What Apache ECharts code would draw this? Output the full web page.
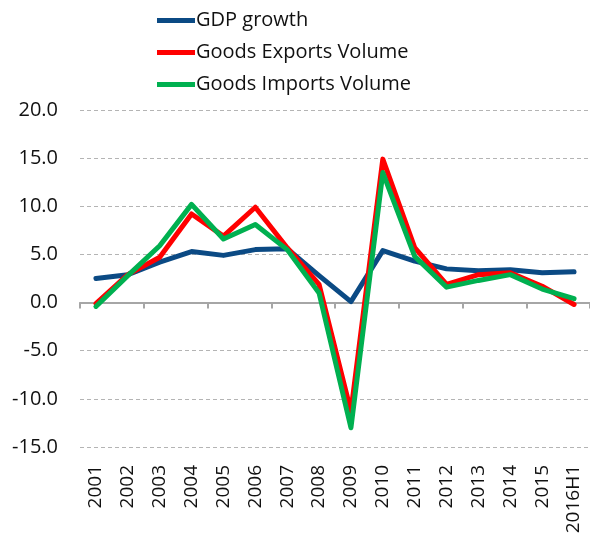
<!DOCTYPE html>
<html>
<head>
<meta charset="utf-8">
<script src="https://cdn.jsdelivr.net/npm/echarts@6/dist/echarts.min.js"></script>
<style>
  html, body { margin: 0; padding: 0; background: #fff; }
  #chart { width: 590px; height: 537px; }
</style>
</head>
<body>
<div id="chart"></div>
<script>
// Annual growth rates, %
const years = ['2001', '2002', '2003', '2004', '2005', '2006', '2007', '2008',
  '2009', '2010', '2011', '2012', '2013', '2014', '2015', '2016H1'];
const gdpGrowth = [2.5, 2.9, 4.2, 5.3, 4.9, 5.5, 5.6, 2.8, 0.1, 5.4, 4.3, 3.5, 3.3, 3.4, 3.1, 3.2];
const exportsVolume = [-0.1, 2.9, 4.7, 9.2, 6.9, 9.9, 5.7, 1.9, -11.3, 14.9, 5.7, 1.9, 2.9, 3.1, 1.7, -0.2];
const importsVolume = [-0.4, 2.8, 5.9, 10.2, 6.6, 8.1, 5.5, 1.0, -13.0, 13.5, 4.8, 1.6, 2.3, 2.9, 1.4, 0.4];

const FONT = '"Open Sans", "Noto Sans", sans-serif';

const chart = echarts.init(document.getElementById('chart'), null, { renderer: 'canvas' });

function lineSeries(name, data, color) {
  return {
    name, type: 'line', data,
    xAxisIndex: 0, yAxisIndex: 0,
    symbol: 'none',
    lineStyle: { color, width: 5, cap: 'round', join: 'round' },
    itemStyle: { color },
    emphasis: { disabled: true },
    animation: false
  };
}

chart.setOption({
  backgroundColor: '#fff',
  animation: false,
  legend: {
    orient: 'vertical',
    left: 152,
    top: 4,
    itemWidth: 38,
    itemHeight: 5,
    itemGap: 9,
    icon: 'rect',
    textStyle: { fontFamily: FONT, fontSize: 20, lineHeight: 23, color: '#111', padding: [0, 0, 0, -4] },
    data: ['GDP growth', 'Goods Exports Volume', 'Goods Imports Volume']
  },
  grid: { left: 80, right: 0, top: 110, bottom: 90, containLabel: false },
  xAxis: [
    {
      // axis line through zero, with tick marks between years
      type: 'category', data: years, boundaryGap: true,
      position: 'bottom',
      axisLine: { onZero: true, lineStyle: { color: '#a6a6a6', width: 2 } },
      axisTick: { show: true, length: 6, inside: false, lineStyle: { color: '#a6a6a6', width: 2 } },
      axisLabel: { show: false },
      splitLine: { show: false }
    },
    {
      // year labels along the bottom of the plot
      type: 'category', data: years, boundaryGap: true,
      position: 'bottom',
      axisLine: { show: false, onZero: false },
      axisTick: { show: false },
      axisLabel: { rotate: 90, margin: 18, fontFamily: FONT, fontSize: 19, color: '#111', interval: 0 },
      splitLine: { show: false }
    }
  ],
  yAxis: {
    type: 'value', min: -15, max: 20, interval: 5,
    axisLine: { show: false },
    axisTick: { show: false },
    axisLabel: {
      margin: 22, fontFamily: FONT, fontSize: 20, color: '#111',
      formatter: v => v.toFixed(1)
    },
    splitLine: { show: true, lineStyle: { color: '#b4b4b4', width: 1, type: [4, 3] } }
  },
  series: [
    lineSeries('GDP growth', gdpGrowth, '#0b4a84'),
    lineSeries('Goods Exports Volume', exportsVolume, '#ff0000'),
    lineSeries('Goods Imports Volume', importsVolume, '#00b050')
  ]
});
</script>
</body>
</html>
